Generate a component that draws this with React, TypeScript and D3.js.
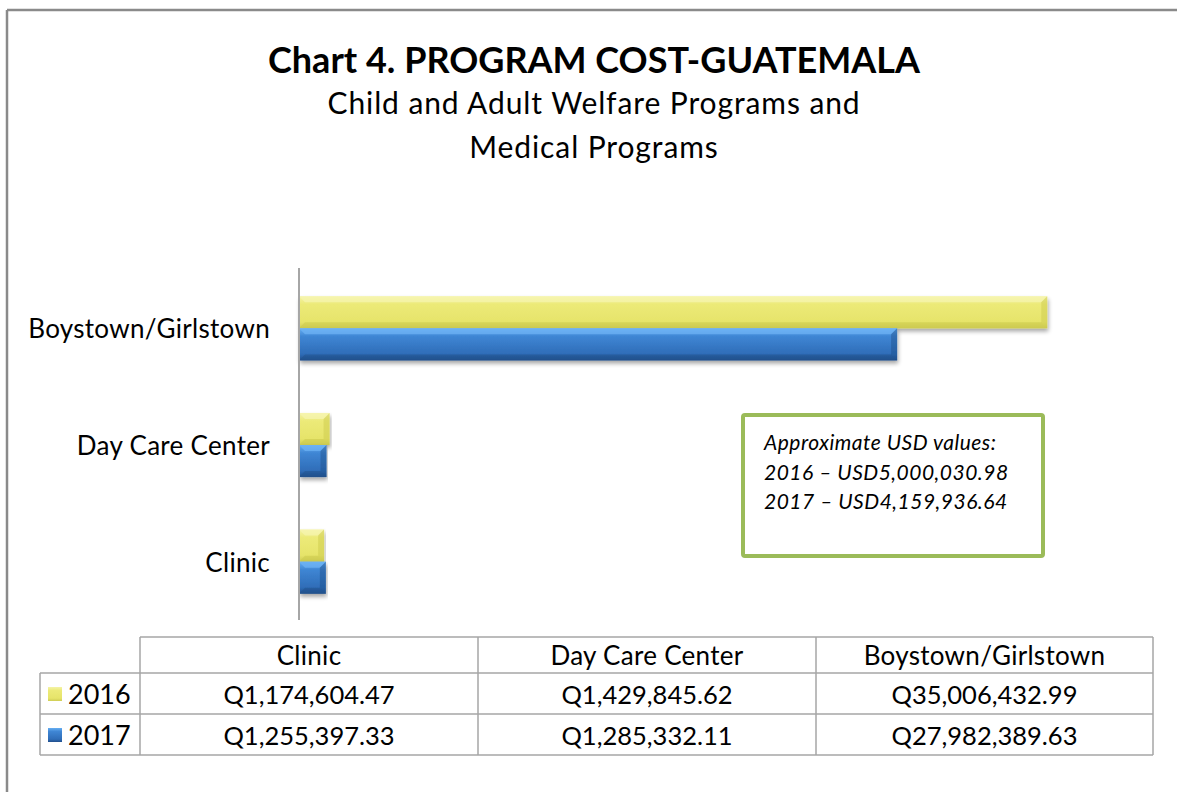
import React from "react";
import * as d3 from "d3";

const categories = ["Boystown/Girlstown", "Day Care Center", "Clinic"];
const tableCategories = ["Clinic", "Day Care Center", "Boystown/Girlstown"];
const years = ["2016", "2017"];
const values2016 = [35006432.99, 1429845.62, 1174604.47];
const values2017 = [27982389.63, 1285332.11, 1255397.33];
const table2016 = ["Q1,174,604.47", "Q1,429,845.62", "Q35,006,432.99"];
const table2017 = ["Q1,255,397.33", "Q1,285,332.11", "Q27,982,389.63"];
const noteLines = ["Approximate USD values:", "2016 – USD5,000,030.98", "2017 – USD4,159,936.64"];

const W = 1177;
const H = 792;
const FONT = "Lato, 'Open Sans', sans-serif";

export default function App() {
  const x = d3.scaleLinear().domain([0, 40000000]).range([299, 1154]);
  const y = d3.scaleBand().domain(categories).range([270, 620]).paddingInner(0.45).paddingOuter(0.225);
  const sub = d3.scaleBand().domain(years).range([0, y.bandwidth()]);
  const series = [
    { year: "2016", values: values2016, grad: "gY", bevel: "#f6f5b0", dark: "#c9c74a" },
    { year: "2017", values: values2017, grad: "gB", bevel: "#6fb3f5", dark: "#1f4f8a" },
  ];
  const colX = [40, 140, 478, 816, 1153];
  const rowY = [637, 673, 714, 755];

  return (
    <svg width={W} height={H} style={{ position: "absolute", left: 0, top: 0, background: "#fff" }}>
      <defs>
        <linearGradient id="gY" x1="0" y1="0" x2="0" y2="1">
          <stop offset="0" stopColor="#f4f3a8" />
          <stop offset="0.25" stopColor="#ecea78" />
          <stop offset="0.8" stopColor="#e6e46a" />
          <stop offset="1" stopColor="#cfcd55" />
        </linearGradient>
        <linearGradient id="gB" x1="0" y1="0" x2="0" y2="1">
          <stop offset="0" stopColor="#66aef2" />
          <stop offset="0.25" stopColor="#3f86d4" />
          <stop offset="0.8" stopColor="#2f6db8" />
          <stop offset="1" stopColor="#214f8c" />
        </linearGradient>
        <filter id="sh" x="-5%" y="-20%" width="110%" height="160%">
          <feGaussianBlur in="SourceAlpha" stdDeviation="2" />
          <feOffset dx="1" dy="3" result="b" />
          <feComponentTransfer><feFuncA type="linear" slope="0.35" /></feComponentTransfer>
          <feMerge><feMergeNode /><feMergeNode in="SourceGraphic" /></feMerge>
        </filter>
      </defs>
      {/* outer border (left and top) */}
      <line x1={7} y1={10} x2={W} y2={10} stroke="#8a8a8a" strokeWidth={2.5} />
      <line x1={7} y1={10} x2={7} y2={H} stroke="#8a8a8a" strokeWidth={2.5} />

      <text x={594} y={73} textAnchor="middle" fontFamily={FONT} fontWeight="bold" fontSize={36} fill="#000">
        Chart 4. PROGRAM COST-GUATEMALA
      </text>
      <text x={594} y={114} textAnchor="middle" fontFamily={FONT} fontSize={30} letterSpacing={0.9} fill="#000">
        Child and Adult Welfare Programs and
      </text>
      <text x={594} y={158} textAnchor="middle" fontFamily={FONT} fontSize={30} letterSpacing={0.9} fill="#000">
        Medical Programs
      </text>

      {/* bars */}
      {series.map((s) =>
        categories.map((c, i) => {
          const y0 = (y(c) as number) + (sub(s.year) as number);
          const h = sub.bandwidth();
          const x0 = x(0);
          const w = x(s.values[i]) - x0;
          const b = Math.min(6, w / 3);
          return (
            <g key={s.year + c} filter="url(#sh)">
              <rect x={x0} y={y0} width={w} height={h} fill={`url(#${s.grad})`} />
              <polygon points={`${x0},${y0} ${x0 + w},${y0} ${x0 + w - b},${y0 + b} ${x0 + b},${y0 + b}`} fill={s.bevel} opacity={0.7} />
              <polygon points={`${x0 + w},${y0} ${x0 + w},${y0 + h} ${x0 + w - b},${y0 + h - b} ${x0 + w - b},${y0 + b}`} fill={s.dark} opacity={0.45} />
              <polygon points={`${x0},${y0 + h} ${x0 + w},${y0 + h} ${x0 + w - b},${y0 + h - b} ${x0 + b},${y0 + h - b}`} fill={s.dark} opacity={0.5} />
            </g>
          );
        })
      )}

      {/* axis line */}
      <line x1={299} y1={268} x2={299} y2={620} stroke="#a6a6a6" strokeWidth={2} />

      {/* category labels */}
      {categories.map((c) => (
        <text key={c} x={270} y={(y(c) as number) + y.bandwidth() / 2 + 10} textAnchor="end" fontFamily={FONT} fontSize={26} letterSpacing={0.3} fill="#000">
          {c}
        </text>
      ))}

      {/* note box */}
      <rect x={743} y={415} width={300} height={141} fill="#fff" stroke="#9bbb59" strokeWidth={4} rx={2} />
      {noteLines.map((t, i) => (
        <text key={t} x={764} y={450 + i * 29.5} fontFamily={FONT} fontStyle="italic" fontSize={21} letterSpacing={0.5} fill="#000">
          {t}
        </text>
      ))}

      {/* data table */}
      <g stroke="#a6a6a6" strokeWidth={1.5} fill="none">
        <line x1={colX[1]} y1={rowY[0]} x2={colX[4]} y2={rowY[0]} />
        <line x1={colX[0]} y1={rowY[1]} x2={colX[4]} y2={rowY[1]} />
        <line x1={colX[0]} y1={rowY[2]} x2={colX[4]} y2={rowY[2]} />
        <line x1={colX[0]} y1={rowY[3]} x2={colX[4]} y2={rowY[3]} />
        <line x1={colX[0]} y1={rowY[1]} x2={colX[0]} y2={rowY[3]} />
        {colX.slice(1).map((cx) => (
          <line key={cx} x1={cx} y1={rowY[0]} x2={cx} y2={rowY[3]} />
        ))}
      </g>
      {tableCategories.map((c, i) => (
        <text key={c} x={(colX[i + 1] + colX[i + 2]) / 2} y={665} textAnchor="middle" fontFamily={FONT} fontSize={26} letterSpacing={0.3} fill="#000">
          {c}
        </text>
      ))}
      {[table2016, table2017].map((row, r) => (
        <g key={r}>
          <rect x={48} y={rowY[r + 1] + 14} width={14} height={14} fill={`url(#${r === 0 ? "gY" : "gB"})`} />
          <text x={68} y={rowY[r + 1] + 31} fontFamily={FONT} fontSize={27} fill="#000">
            {years[r]}
          </text>
          {row.map((v, i) => (
            <text key={i} x={(colX[i + 1] + colX[i + 2]) / 2} y={rowY[r + 1] + 31} textAnchor="middle" fontFamily={FONT} fontSize={25.5} fill="#000">
              {v}
            </text>
          ))}
        </g>
      ))}
    </svg>
  );
}
